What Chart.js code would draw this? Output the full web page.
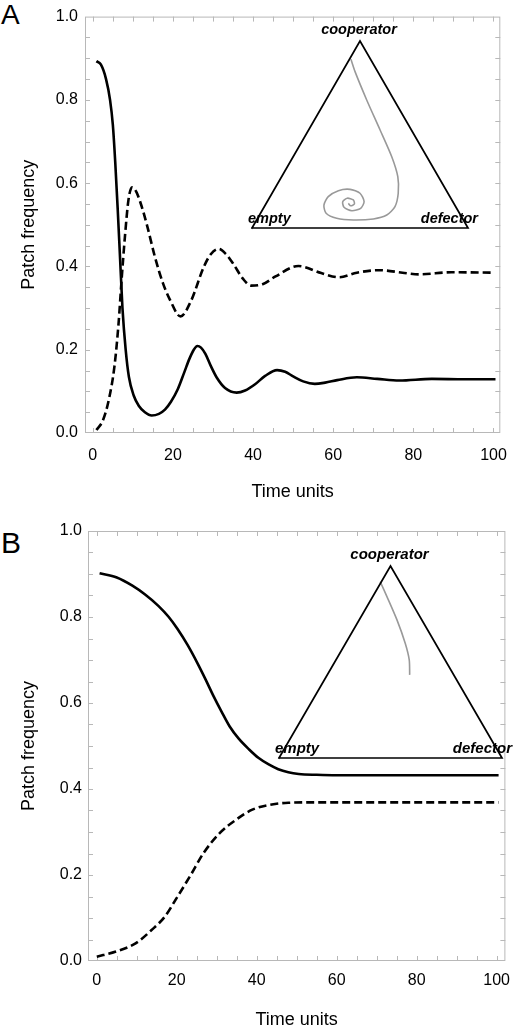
<!DOCTYPE html>
<html>
<head>
<meta charset="utf-8">
<script src="https://cdn.jsdelivr.net/npm/chart.js@4.4.1/dist/chart.umd.min.js"></script>
<style>
  body { margin: 0; background: #fff; }
  canvas { position: absolute; left: 0; }
  .letter { position: absolute; left: 1px; font-family: "Liberation Sans", Arial, sans-serif; color: #000; }
</style>
</head>
<body>
<div class="letter" style="top:1px;font-size:28px;line-height:28px">A</div>
<canvas id="mainA" width="520" height="505" style="top:0"></canvas>
<canvas id="triA" width="520" height="505" style="top:0"></canvas>
<div class="letter" style="top:528px;font-size:30px;line-height:30px">B</div>
<canvas id="mainB" width="520" height="522" style="top:505px"></canvas>
<canvas id="triB" width="520" height="522" style="top:505px"></canvas>
<script>
const FONT = '"Liberation Sans", Arial, sans-serif';

// axis labels
const xTicks = [0, 20, 40, 60, 80, 100];
const yTicks = [0, 0.2, 0.4, 0.6, 0.8, 1.0];

// panel A: solid curve (cooperator) and dashed curve (defector)
const timeA_solid = [0.9, 2, 3.3, 4.3, 5.0, 5.6, 6.2, 6.8, 7.4, 8.2, 9.0, 10.2, 11.5, 13, 14.7, 16.5, 18, 19.5, 21.2, 22.8, 24.1, 25.2, 26.1, 27, 28.1, 29.5, 31, 33, 35.9, 38, 40.5, 43, 46, 48, 50, 52.5, 55.4, 58, 61, 65.9, 71, 76.5, 84.6, 92.8, 100.5];
const freqA_solid = [0.893, 0.885, 0.85, 0.80, 0.74, 0.65, 0.54, 0.42, 0.30, 0.20, 0.135, 0.09, 0.065, 0.05, 0.042, 0.046, 0.056, 0.075, 0.105, 0.145, 0.178, 0.20, 0.209, 0.205, 0.19, 0.16, 0.132, 0.108, 0.097, 0.102, 0.117, 0.137, 0.151, 0.147, 0.136, 0.124, 0.118, 0.121, 0.127, 0.134, 0.130, 0.126, 0.130, 0.129, 0.129];
const timeA_dashed = [0.9, 2.5, 4, 5.4, 6.4, 7.2, 8.0, 8.9, 9.8, 10.8, 12, 13.5, 15.5, 17.5, 19.2, 21.9, 24.5, 27.7, 29.5, 31.4, 33.2, 35, 37.5, 39.5, 42.5, 45.6, 51.3, 57, 61.5, 65.9, 71.6, 77.3, 81.4, 89.5, 100.1];
const freqA_dashed = [0.007, 0.03, 0.08, 0.16, 0.26, 0.37, 0.47, 0.56, 0.59, 0.58, 0.55, 0.50, 0.423, 0.36, 0.321, 0.28, 0.317, 0.399, 0.43, 0.442, 0.43, 0.407, 0.37, 0.354, 0.358, 0.376, 0.401, 0.384, 0.374, 0.385, 0.391, 0.385, 0.381, 0.386, 0.385];

// panel B
const timeB_solid = [0.7, 5, 8.9, 12, 15.4, 18, 20.2, 22.7, 25.1, 27.2, 29.2, 31.2, 33.2, 35.5, 38.1, 40.5, 43, 45.4, 47.9, 50.5, 55, 60, 80, 100.5];
const freqB_solid = [0.902, 0.892, 0.873, 0.853, 0.826, 0.80, 0.772, 0.735, 0.694, 0.655, 0.616, 0.58, 0.546, 0.517, 0.492, 0.472, 0.457, 0.446, 0.439, 0.435, 0.433, 0.432, 0.432, 0.432];
const timeB_dashed = [0, 4.8, 9.7, 13.7, 17, 20.2, 23.5, 26.7, 30.8, 34.9, 38.9, 43.8, 47.9, 55, 70, 100.5];
const freqB_dashed = [0.01, 0.022, 0.041, 0.072, 0.103, 0.15, 0.2, 0.251, 0.298, 0.329, 0.352, 0.364, 0.368, 0.369, 0.369, 0.369];

// simplex insets: corners and trajectories in triangle-plane coordinates
const cornerNames = ['empty', 'cooperator', 'defector'];
const cornerX = [0, 0.5, 1, 0];
const cornerY = [0, 0.866, 0, 0];
const trajA_x = [0.458, 0.477, 0.531, 0.593, 0.647, 0.675, 0.677, 0.662, 0.624, 0.562, 0.469, 0.392, 0.343, 0.333, 0.353, 0.400, 0.454, 0.500, 0.519, 0.503, 0.462, 0.426, 0.420, 0.441, 0.469, 0.474, 0.457, 0.446];
const trajA_y = [0.781, 0.724, 0.593, 0.454, 0.330, 0.238, 0.161, 0.099, 0.060, 0.042, 0.037, 0.045, 0.068, 0.106, 0.145, 0.173, 0.179, 0.161, 0.122, 0.091, 0.080, 0.096, 0.122, 0.138, 0.130, 0.111, 0.103, 0.114];
const trajB_x = [0.454, 0.484, 0.529, 0.566, 0.584, 0.586];
const trajB_y = [0.795, 0.728, 0.623, 0.518, 0.443, 0.375];

const pts = (xs, ys) => xs.map((x, i) => ({ x: x, y: ys[i] }));

// light grey frame with inward ticks on all four sides
const framePlugin = {
  id: 'frame',
  beforeDatasetsDraw(chart) {
    const { ctx, chartArea: a, scales: { x, y } } = chart;
    ctx.save();
    ctx.strokeStyle = '#b8b8b8';
    ctx.lineWidth = 1;
    ctx.strokeRect(a.left + 0.5, a.top + 0.5, a.right - a.left - 1, a.bottom - a.top - 1);
    ctx.beginPath();
    for (let v = 0; v <= 100; v += 5) {
      const px = Math.round(x.getPixelForValue(v)) + 0.5;
      ctx.moveTo(px, a.bottom); ctx.lineTo(px, a.bottom - 5);
      ctx.moveTo(px, a.top); ctx.lineTo(px, a.top + 5);
    }
    for (let i = 1; i < 20; i++) {
      const py = Math.round(y.getPixelForValue(i * 0.05)) + 0.5;
      ctx.moveTo(a.left, py); ctx.lineTo(a.left + 5, py);
      ctx.moveTo(a.right, py); ctx.lineTo(a.right - 5, py);
    }
    ctx.stroke();
    ctx.restore();
  }
};

function mainChart(id, solid, dashed, cfg) {
  return new Chart(document.getElementById(id), {
    type: 'scatter',
    data: {
      datasets: [
        { data: solid, showLine: true, borderColor: '#000', borderWidth: 2.6, pointRadius: 0, cubicInterpolationMode: 'monotone' },
        { data: dashed, showLine: true, borderColor: '#000', borderWidth: 2.6, borderDash: [8, 4], pointRadius: 0, cubicInterpolationMode: 'monotone' }
      ]
    },
    options: {
      responsive: false,
      animation: false,
      events: [],
      layout: { padding: { top: cfg.top, right: cfg.right, left: 0, bottom: 0 } },
      plugins: { legend: { display: false }, tooltip: { enabled: false } },
      scales: {
        x: {
          type: 'linear', min: cfg.xMin, max: cfg.xMax,
          afterBuildTicks: s => { s.ticks = xTicks.map(v => ({ value: v })); },
          afterFit: s => { s.height = cfg.xHeight; },
          grid: { display: false, drawTicks: false },
          border: { display: false },
          ticks: { color: '#000', font: { family: FONT, size: 16 }, padding: cfg.xTickPad, maxRotation: 0, callback: v => String(v) },
          title: { display: true, text: 'Time units', color: '#000', font: { family: FONT, size: 18, lineHeight: 1 }, padding: { top: 0, bottom: cfg.xTitlePad } }
        },
        y: {
          type: 'linear', min: 0, max: 1,
          afterBuildTicks: s => { s.ticks = yTicks.map(v => ({ value: v })); },
          afterFit: s => { s.width = cfg.yWidth; },
          grid: { display: false, drawTicks: false },
          border: { display: false },
          ticks: { color: '#000', font: { family: FONT, size: 16 }, padding: cfg.yTickPad, callback: v => v.toFixed(1) },
          title: { display: true, text: 'Patch frequency', color: '#000', font: { family: FONT, size: 18, lineHeight: 1 }, padding: { top: 20, bottom: 0 } }
        }
      }
    },
    plugins: [framePlugin]
  });
}

// corner labels of the simplex
const cornerLabelPlugin = {
  id: 'cornerLabels',
  afterDatasetsDraw(chart, args, opts) {
    const { ctx, scales: { x, y } } = chart;
    ctx.save();
    ctx.fillStyle = '#000';
    ctx.font = 'italic bold ' + opts.size + 'px ' + FONT;
    ctx.textBaseline = 'middle';
    const ex = x.getPixelForValue(cornerX[0]), ey = y.getPixelForValue(cornerY[0]);
    const cx = x.getPixelForValue(cornerX[1]), cy = y.getPixelForValue(cornerY[1]);
    const dx = x.getPixelForValue(cornerX[2]), dy = y.getPixelForValue(cornerY[2]);
    ctx.textAlign = 'left';
    ctx.fillText(cornerNames[0], ex - 4, ey - 9);
    ctx.textAlign = 'center';
    ctx.fillText(cornerNames[1], cx - 1, cy - 11);
    ctx.textAlign = 'right';
    ctx.fillText(cornerNames[2], dx + 10, dy - 9);
    ctx.restore();
  }
};

function simplexChart(id, traj, pad, size) {
  return new Chart(document.getElementById(id), {
    type: 'scatter',
    data: {
      datasets: [
        { data: pts(cornerX, cornerY), showLine: true, borderColor: '#000', borderWidth: 1.7, pointRadius: 0, borderJoinStyle: 'miter', borderCapStyle: 'square', clip: false },
        { data: traj, showLine: true, borderColor: '#999', borderWidth: 1.6, pointRadius: 0, tension: 0.25, clip: false }
      ]
    },
    options: {
      responsive: false,
      animation: false,
      events: [],
      layout: { padding: pad },
      plugins: { legend: { display: false }, tooltip: { enabled: false }, cornerLabels: { size: size } },
      scales: {
        x: { type: 'linear', display: false, min: 0, max: 1 },
        y: { type: 'linear', display: false, min: 0, max: 0.866 }
      }
    },
    plugins: [cornerLabelPlugin]
  });
}

mainChart('mainA', pts(timeA_solid, freqA_solid), pts(timeA_dashed, freqA_dashed),
  { top: 7, right: 10, xMin: -1.95, xMax: 101.7, xHeight: 72, yWidth: 85, yTickPad: 7, xTickPad: 13, xTitlePad: 4 });
mainChart('mainB', pts(timeB_solid, freqB_solid), pts(timeB_dashed, freqB_dashed),
  { top: 26, right: 3, xMin: -2.2, xMax: 102.2, xHeight: 66, yWidth: 88, yTickPad: 6, xTickPad: 10, xTitlePad: -2 });

simplexChart('triA', pts(trajA_x, trajA_y), { left: 252, right: 52, top: 41, bottom: 277 }, 14.5);
simplexChart('triB', pts(trajB_x, trajB_y), { left: 279, right: 18, top: 61, bottom: 269 }, 15);
</script>
</body>
</html>
